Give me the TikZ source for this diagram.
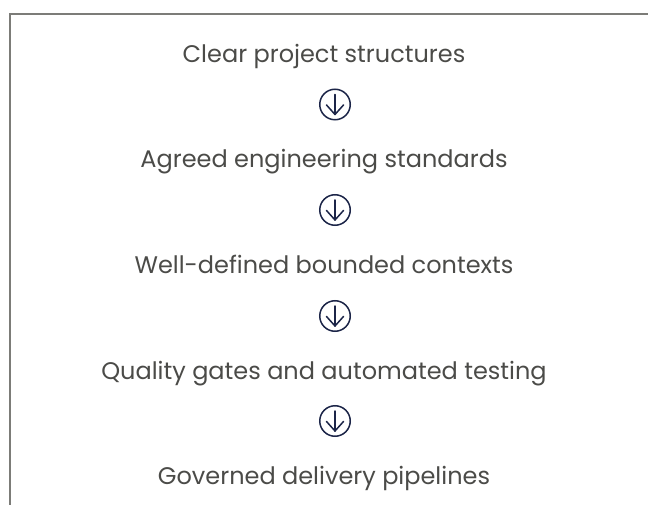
\documentclass[tikz,border=0pt]{standalone}
\usepackage{fontspec}
\setmainfont{Poppins}
\definecolor{txt}{HTML}{4B4B48}
\definecolor{frame}{HTML}{7C7C78}
\definecolor{navy}{HTML}{1C2548}
\tikzset{
  label text/.style={anchor=base, text=txt, font=\fontsize{24}{29}\selectfont, inner sep=0pt},
  arrowcircle/.style={circle, draw=navy, line width=1.5pt, minimum size=30.5pt, inner sep=0pt},
  arrowstroke/.style={draw=navy, line width=1.5pt, line cap=round, line join=round}
}
\begin{document}
\begin{tikzpicture}[x=1pt,y=-1pt]
\useasboundingbox (0,0) rectangle (648,505);
\coordinate (fb) at (10,505);
\coordinate (fc) at (10,14);
\coordinate (fr) at (648,14);
\draw[frame, line width=1.5pt] (fb) -- (fc) -- (fr);

\node[label text] (t1) at (324,63) {Clear project structures};
\node[label text] (t2) at (324,168) {Agreed engineering standards};
\node[label text] (t3) at (324,273.5) {Well-defined bounded contexts};
\node[label text] (t4) at (324,379) {Quality gates and automated testing};
\node[label text] (t5) at (324,484) {Governed delivery pipelines};

\foreach \i/\y in {1/104.5,2/210,3/316,4/421}{
  \node[arrowcircle] (c\i) at (335,\y) {};
  \draw[arrowstroke] ([yshift=10pt]c\i.center) -- ([yshift=-10pt]c\i.center);
  \draw[arrowstroke] ([xshift=-8.5pt,yshift=-0.5pt]c\i.center) -- ([yshift=-10pt]c\i.center) -- ([xshift=8.5pt,yshift=-0.5pt]c\i.center);
}
\end{tikzpicture}
\end{document}
